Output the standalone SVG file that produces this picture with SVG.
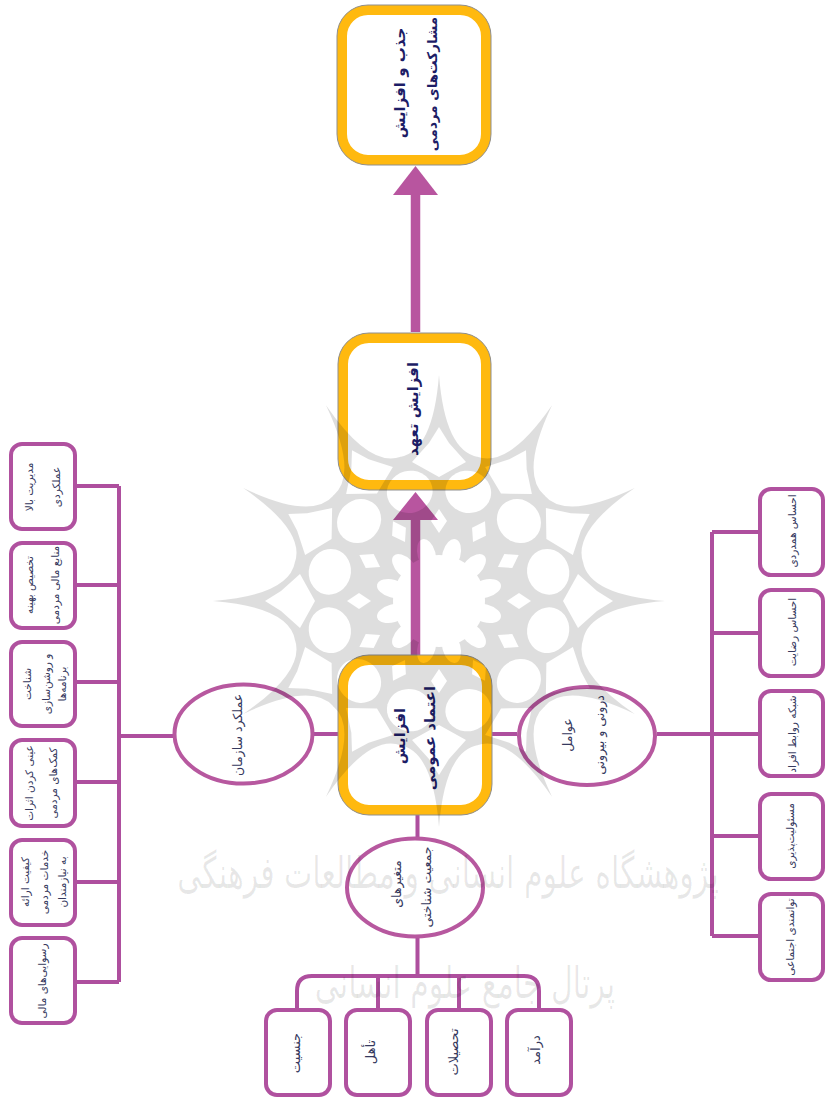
<svg xmlns="http://www.w3.org/2000/svg" width="825" height="1102" viewBox="0 0 825 1102">
<style>
text{font-family:"DejaVu Sans","Noto Sans",sans-serif;text-anchor:middle}
.s{font-size:10.500px;fill:#36395e}
.e{font-size:12.500px;fill:#36395e}
.m{font-size:13px;fill:#36395e}
.b{font-size:15px;font-weight:bold;fill:#1d1d66}
.b2{font-size:13.500px;font-weight:bold;fill:#1d1d66}
.box{fill:#fff;stroke:#b0519f;stroke-width:4}
.ell{fill:#fff;stroke:#b7589f;stroke-width:4}
.gold{fill:#fff;stroke:#ffb90f;stroke-width:10}
.edge{fill:none;stroke:#8f8f8f;stroke-width:1}
.ln{fill:none;stroke:#ae4f9e;stroke-width:4}
.sh{fill:none;stroke:#b8559f;stroke-width:9.500}
.hd{fill:#b8559f}
.wm{font-size:30px;fill:#000;fill-opacity:.09}
</style>
<defs>
<path id="wedge" d="M0 0L39 -144Q6 -150 0 -226Q-6 -150 -39 -144Z" fill="#fff"/>
<g id="holes" fill="#000">
<polygon points="0,-124 27,-139 10,-158 0,-174 -10,-158 -27,-139"/>
<polygon points="0,-92 8,-80 0,-68 -8,-80"/>
<g transform="rotate(15)"><ellipse cy="-113" rx="23" ry="21"/><ellipse cy="-48" rx="9" ry="16"/></g>
</g>
<mask id="rose" maskUnits="userSpaceOnUse" x="0" y="300" width="825" height="600">
<g transform="translate(439,601)">
<circle r="145" fill="#fff"/>
<use href="#wedge"/><use href="#wedge" transform="rotate(30)"/><use href="#wedge" transform="rotate(60)"/><use href="#wedge" transform="rotate(90)"/><use href="#wedge" transform="rotate(120)"/><use href="#wedge" transform="rotate(150)"/><use href="#wedge" transform="rotate(180)"/><use href="#wedge" transform="rotate(210)"/><use href="#wedge" transform="rotate(240)"/><use href="#wedge" transform="rotate(270)"/><use href="#wedge" transform="rotate(300)"/><use href="#wedge" transform="rotate(330)"/>
<use href="#holes"/><use href="#holes" transform="rotate(30)"/><use href="#holes" transform="rotate(60)"/><use href="#holes" transform="rotate(90)"/><use href="#holes" transform="rotate(120)"/><use href="#holes" transform="rotate(150)"/><use href="#holes" transform="rotate(180)"/><use href="#holes" transform="rotate(210)"/><use href="#holes" transform="rotate(240)"/><use href="#holes" transform="rotate(270)"/><use href="#holes" transform="rotate(300)"/><use href="#holes" transform="rotate(330)"/>
<circle r="46" fill="#000"/>
</g>
</mask>
</defs>
<rect width="825" height="1102" fill="#fff"/>
<g id="connectors">
<path class="sh" d="M415.500 332V190M415.500 656V516"/>
<polygon class="hd" points="415.500,166 438,195 393,195"/>
<polygon class="hd" points="415.500,492 438,520 393,520"/>
<path class="ln" d="M119 486V982M77 486H119M77 585H119M77 682H119M77 782H119M77 882H119M77 982H119M119 736H173M314 734H338"/>
<path class="ln" d="M492 734H517M657 734H758M712 532V936M712 532H758M712 633H758M712 836H758M712 936H758"/>
<path class="ln" d="M417.500 815V837M417.500 938V976M297 1010V991Q297 976 312 976H524Q539 976 539 991V1010M378 976V1010M459 976V1010"/>
</g>
<g id="n-participation"><rect class="gold" x="342" y="10" width="144" height="150" rx="26"/><rect class="edge" x="337" y="5" width="154" height="160" rx="31"/><text class="b" transform="translate(400,83) rotate(-90)" dy=".35em">جذب و افزایش</text><text class="b2" transform="translate(432,84) rotate(-90)" dy=".35em">مشارکت‌های مردمی</text></g>
<g id="n-commitment"><rect class="gold" x="343" y="338" width="143" height="147" rx="26"/><rect class="edge" x="338" y="333" width="153" height="157" rx="31"/><text class="b" transform="translate(413,409) rotate(-90)" dy=".35em">افزایش تعهد</text></g>
<g id="n-trust"><rect class="gold" x="343" y="660" width="144" height="150" rx="26"/><rect class="edge" x="338" y="655" width="154" height="160" rx="31"/><text class="b" transform="translate(400,736) rotate(-90)" dy=".35em">افزایش</text><text class="b" transform="translate(430,738) rotate(-90)" dy=".35em">اعتماد عمومی</text></g>
<g id="n-org"><ellipse class="ell" cx="243.500" cy="734" rx="69" ry="49.500"/><text class="e" transform="translate(238,735) rotate(-90)" dy=".35em">عملکرد سازمان</text></g>
<g id="n-factors"><ellipse class="ell" cx="587" cy="736" rx="68" ry="49"/><text class="e" transform="translate(568,735) rotate(-90)" dy=".35em">عوامل</text><text class="e" transform="translate(600,735) rotate(-90)" dy=".35em">درونی و بیرونی</text></g>
<g id="n-demo"><ellipse class="ell" cx="415" cy="887.500" rx="68" ry="49"/><text class="e" transform="translate(397,884) rotate(-90)" dy=".35em">متغیرهای</text><text class="e" transform="translate(427,887) rotate(-90)" dy=".35em">جمعیت شناختی</text></g>
<g id="l1"><rect class="box" x="11" y="444" width="64" height="85" rx="11"/><text class="s" transform="translate(29,487) rotate(-90)" dy=".35em">مدیریت بالا</text><text class="s" transform="translate(56,487) rotate(-90)" dy=".35em">عملکردی</text></g>
<g id="l2"><rect class="box" x="11" y="543" width="64" height="85" rx="11"/><text class="s" transform="translate(29,585) rotate(-90)" dy=".35em">تخصیص بهینه</text><text class="s" transform="translate(55,585) rotate(-90)" dy=".35em">منابع مالی مردمی</text></g>
<g id="l3"><rect class="box" x="11" y="642" width="64" height="84" rx="11"/><text class="s" transform="translate(27,684) rotate(-90)" dy=".35em">شناخت</text><text class="s" transform="translate(46,684) rotate(-90)" dy=".35em">و روشن‌سازی</text><text class="s" transform="translate(62,684) rotate(-90)" dy=".35em">برنامه‌ها</text></g>
<g id="l4"><rect class="box" x="11" y="740" width="64" height="86" rx="11"/><text class="s" transform="translate(29,783) rotate(-90)" dy=".35em">عینی کردن اثرات</text><text class="s" transform="translate(53,783) rotate(-90)" dy=".35em">کمک‌های مردمی</text></g>
<g id="l5"><rect class="box" x="11" y="840" width="64" height="85" rx="11"/><text class="s" transform="translate(25,882) rotate(-90)" dy=".35em">کیفیت ارائه</text><text class="s" transform="translate(44,882) rotate(-90)" dy=".35em">خدمات مردمی</text><text class="s" transform="translate(62,882) rotate(-90)" dy=".35em">به نیازمندان</text></g>
<g id="l6"><rect class="box" x="11" y="938" width="64" height="85" rx="11"/><text class="s" transform="translate(42,981) rotate(-90)" dy=".35em">رسوایی‌های مالی</text></g>
<g id="r1"><rect class="box" x="760" y="489" width="63" height="86" rx="11"/><text class="s" transform="translate(792,531) rotate(-90)" dy=".35em">احساس همدردی</text></g>
<g id="r2"><rect class="box" x="760" y="590" width="63" height="86" rx="11"/><text class="s" transform="translate(792,632) rotate(-90)" dy=".35em">احساس رضایت</text></g>
<g id="r3"><rect class="box" x="760" y="691" width="63" height="85" rx="11"/><text class="s" transform="translate(792,734) rotate(-90)" dy=".35em">شبکه روابط افراد</text></g>
<g id="r4"><rect class="box" x="760" y="794" width="63" height="85" rx="11"/><text class="s" transform="translate(790,836) rotate(-90)" dy=".35em">مسئولیت‌پذیری</text></g>
<g id="r5"><rect class="box" x="760" y="894" width="63" height="86" rx="11"/><text class="s" transform="translate(790,937) rotate(-90)" dy=".35em">توانمندی اجتماعی</text></g>
<g id="b1"><rect class="box" x="266" y="1010" width="64" height="85" rx="11"/><text class="m" transform="translate(295,1053) rotate(-90)" dy=".35em">جنسیت</text></g>
<g id="b2"><rect class="box" x="346" y="1010" width="64" height="85" rx="11"/><text class="m" transform="translate(370,1052) rotate(-90)" dy=".35em">تأهل</text></g>
<g id="b3"><rect class="box" x="427" y="1010" width="64" height="85" rx="11"/><text class="m" transform="translate(453,1052) rotate(-90)" dy=".35em">تحصیلات</text></g>
<g id="b4"><rect class="box" x="507" y="1010" width="64" height="85" rx="11"/><text class="m" transform="translate(535,1050) rotate(-90)" dy=".35em">درآمد</text></g>
<g id="watermark">
<rect x="0" y="300" width="825" height="600" fill="#000" fill-opacity=".13" mask="url(#rose)"/>
<text class="wm" transform="translate(448,888) scale(1,1.450)">پژوهشگاه علوم انسانی و مطالعات فرهنگی</text>
<text class="wm" transform="translate(465,998) scale(1,1.450)">پرتال جامع علوم انسانی</text>
</g>
</svg>
